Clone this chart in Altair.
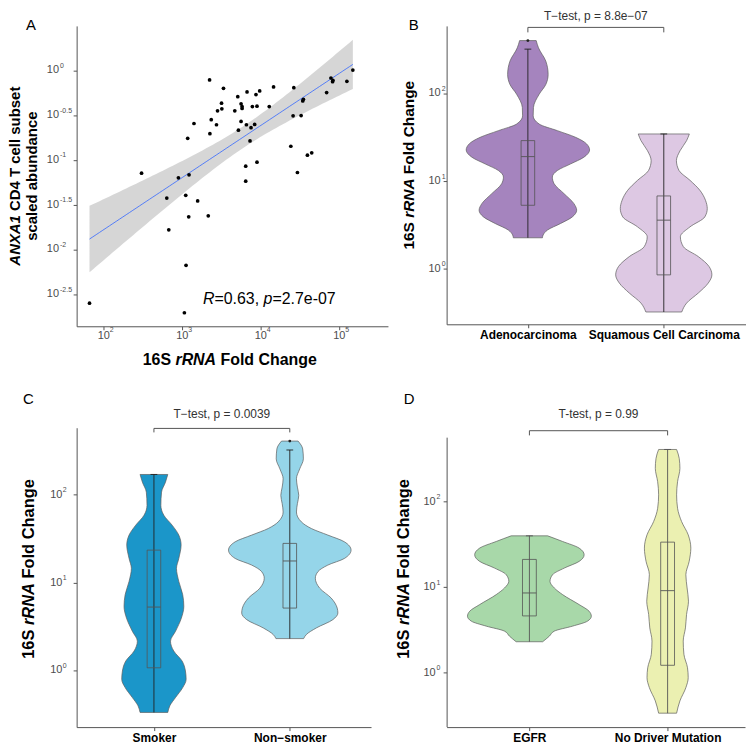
import altair as alt
import numpy as np
import pandas as pd

FONT = "Liberation Sans"
AX = "#555555"
LAB = "#4d4d4d"

# ---------------- Panel A : scatter ----------------
a_fold_change = [65.8, 303, 635, 673, 893, 1107, 1117, 1064, 1172, 1219, 1208, 1409, 1570, 2143,
                 2228, 2249, 2339, 2729, 2812, 3162, 3192, 3350, 4667, 5093, 5188, 5610, 5610, 5781,
                 5781, 6427, 6427, 6561, 6683, 7295, 7516, 7816, 8356, 8690, 8954, 8954, 9683, 12823,
                 14555, 24155, 25823, 26363, 29309, 32659, 34277, 34914, 39264, 44566, 69024, 78343,
                 82224, 82985, 125026, 148936]
a_abundance = [0.00251, 0.0711, 0.0375, 0.01656, 0.0631, 0.0402, 0.00664, 0.00196, 0.174, 0.0681,
               0.0231, 0.255, 0.0348, 0.0237, 0.782, 0.196, 0.281, 0.247, 0.353, 0.430, 0.372, 0.631,
               0.353, 0.509, 0.215, 0.423, 0.269, 0.394, 0.375, 0.0851, 0.0579, 0.247, 0.574, 0.163,
               0.229, 0.394, 0.249, 0.537, 0.398, 0.0942, 0.589, 0.394, 0.653, 0.142, 0.311, 0.641,
               0.0723, 0.313, 0.456, 0.476, 0.113, 0.120, 0.565, 0.822, 0.748, 0.774, 0.755, 1.009]
a_x_tick_exp = ["2", "3", "4", "5"]
a_y_tick_exp = ["0", "-0.5", "-1", "-1.5", "-2", "-2.5"]

# ---------------- Panel B : histology ----------------
b_groups = ["Adenocarcinoma", "Squamous Cell Carcinoma"]
b_colors = ["#A584BE", "#DDC8E3"]
b_adeno_level = [398, 329, 232, 164, 126, 97.5, 68.9, 55.3, 44.6, 37.5, 31.5, 26.5, 22.6, 18.7,
                 15.7, 13.2, 11.1, 9.33, 7.19, 5.53, 4.66, 3.91, 3.29, 2.77, 2.43, 2.26]
b_adeno_half = [0.061, 0.078, 0.132, 0.149, 0.132, 0.083, 0.041, 0.039, 0.083, 0.217, 0.351, 0.432,
                0.454, 0.412, 0.315, 0.217, 0.180, 0.193, 0.266, 0.339, 0.359, 0.327, 0.241, 0.144,
                0.112, 0.107]
b_squam_level = [34.4, 28.9, 22.2, 17.1, 13.2, 10.2, 7.84, 6.04, 4.86, 3.91, 3.01, 2.32, 1.79, 1.38,
                 1.06, 0.855, 0.689, 0.531, 0.408, 0.323]
b_squam_half = [0.188, 0.168, 0.120, 0.093, 0.112, 0.193, 0.266, 0.307, 0.320, 0.302, 0.193, 0.122,
                0.144, 0.254, 0.334, 0.354, 0.327, 0.254, 0.168, 0.132]
b_q1 = [5.3, 0.855]
b_median = [19.0, 3.59]
b_q3 = [28.9, 6.77]
b_low = [2.26, 0.323]
b_high = [318, 34.4]
b_outlier_pos = [1]
b_outlier_val = [398]
b_test = "T\u2212test, p = 8.8e\u221207"

# ---------------- Panel C : smoking ----------------
c_groups = ["Smoker", "Non\u2212smoker"]
c_colors = ["#1B96C9", "#95D5E9"]
c_smoker_level = [170, 139, 107, 75.7, 58.3, 45.0, 34.7, 26.7, 18.8, 14.5, 10.3, 7.25, 5.35, 3.94,
                  2.79, 2.15, 1.66, 1.28, 0.982, 0.791, 0.637, 0.491, 0.395, 0.332]
c_smoker_half = [0.102, 0.085, 0.056, 0.051, 0.073, 0.134, 0.183, 0.200, 0.183, 0.166, 0.183, 0.212,
                 0.220, 0.202, 0.159, 0.122, 0.146, 0.207, 0.232, 0.237, 0.212, 0.159, 0.117, 0.102]
c_non_level = [408, 332, 256, 197, 152, 122, 98.2, 79.1, 63.6, 49.1, 41.2, 34.7, 29.1, 23.4, 18.8,
               15.8, 13.3, 11.2, 8.63, 6.65, 5.12, 4.50, 3.78, 3.04, 2.56, 2.30]
c_non_half = [0.061, 0.095, 0.100, 0.073, 0.049, 0.056, 0.066, 0.056, 0.049, 0.085, 0.159, 0.280,
              0.402, 0.451, 0.402, 0.280, 0.207, 0.188, 0.220, 0.305, 0.349, 0.354, 0.317, 0.195,
              0.122, 0.102]
c_q1 = [1.07, 5.12]
c_median = [5.26, 17.6]
c_q3 = [23.4, 27.9]
c_low = [0.332, 2.30]
c_high = [170, 323]
c_outlier_pos = [2]
c_outlier_val = [408]
c_test = "T\u2212test, p = 0.0039"

# ---------------- Panel D : driver mutation ----------------
d_groups = ["EGFR", "No Driver Mutation"]
d_colors = ["#A8D8A9", "#EBF0B1"]
d_egfr_level = [39.8, 34.2, 28.6, 23.9, 20.0, 16.7, 14.0, 11.7, 9.78, 8.18, 6.25, 5.23, 4.57, 4.00,
                3.50, 3.06, 2.67, 2.30]
d_egfr_half = [0.132, 0.240, 0.360, 0.396, 0.360, 0.252, 0.168, 0.149, 0.180, 0.240, 0.360, 0.432,
               0.448, 0.420, 0.312, 0.180, 0.144, 0.096]
d_nodrv_level = [407, 320, 245, 171, 120, 83.6, 58.5, 40.9, 28.6, 20.0, 14.0, 9.78, 6.84, 4.78,
                 3.34, 2.34, 1.64, 1.14, 0.875, 0.668, 0.468, 0.336]
d_nodrv_half = [0.065, 0.084, 0.089, 0.072, 0.065, 0.072, 0.101, 0.149, 0.168, 0.156, 0.132, 0.141,
                0.151, 0.137, 0.129, 0.113, 0.118, 0.144, 0.149, 0.132, 0.089, 0.065]
d_q1 = [4.61, 1.22]
d_median = [8.55, 9.10]
d_q3 = [21.1, 33.6]
d_low = [2.30, 0.336]
d_high = [39.8, 407]
d_outlier_pos = []
d_outlier_val = []
d_test = "T-test, p = 0.99"

violin_tick_exp = ["0", "1", "2"]

# ---------------- helpers ----------------
ONE = pd.DataFrame({"k": [0]})

W_REG = {" ": .278, "-": .333, "\u2212": .584, ".": .278, ",": .278, "=": .584,
         "A": .667, "B": .667, "C": .722, "D": .722, "E": .667, "F": .611, "G": .778, "H": .722,
         "I": .278, "N": .722, "R": .722, "S": .667, "T": .611, "X": .667,
         "a": .556, "b": .556, "c": .5, "d": .556, "e": .556, "g": .556, "h": .556, "i": .222,
         "k": .5, "l": .222, "m": .833, "n": .556, "o": .556, "p": .556, "r": .333, "s": .5,
         "t": .278, "u": .556}
W_BOLD = {" ": .278, "A": .722, "C": .722, "D": .722, "F": .611, "N": .722, "R": .722, "S": .667,
          "T": .611, "X": .667, "a": .556, "b": .611, "c": .556, "d": .611, "e": .556, "g": .611,
          "h": .611, "i": .278, "l": .278, "n": .611, "o": .611, "r": .389, "s": .556, "t": .333,
          "u": .611}


def text_width(s, size, bold):
    table = W_BOLD if bold else W_REG
    return sum(table.get(ch, .556) for ch in s) * size


def seg_layers(segments, x, y, size, angle=0, center=True):
    widths = [text_width(t, size, w == "bold") for t, w, st in segments]
    off = -sum(widths) / 2 if center else 0.0
    out = []
    for (txt, weight, style), wd in zip(segments, widths):
        lead = len(txt) - len(txt.lstrip(" "))
        shown = txt.strip(" ")
        sp = text_width(" " * lead, size, weight == "bold")
        out.append(
            alt.Chart(ONE).mark_text(text=shown, align="left", baseline="alphabetic", font=FONT,
                                     fontSize=size, fontWeight=weight, fontStyle=style,
                                     angle=angle, dx=off + sp, color="black")
            .encode(x=alt.value(x), y=alt.value(y)))
        off += wd
    return out


def rrna_title():
    return [("16S ", "bold", "normal"), ("rRNA", "bold", "italic"), (" Fold Change", "bold", "normal")]


# ---------------- Panel A chart ----------------
xsA = alt.Scale(type="log", domain=[45.1, 416900], nice=False)
ysA = alt.Scale(type="log", domain=[0.001384, 3.14], nice=False)
x_ticks_A = [10.0 ** float(e) for e in a_x_tick_exp]
y_ticks_A = [10.0 ** float(e) for e in a_y_tick_exp]
axA_x = alt.Axis(values=x_ticks_A, labels=False, title=None, grid=False, tickSize=3.5,
                 tickColor=AX, domainColor=AX, tickWidth=1, domainWidth=1)
axA_y = alt.Axis(values=y_ticks_A, labels=False, title=None, grid=False, tickSize=3.5,
                 tickColor=AX, domainColor=AX, tickWidth=1, domainWidth=1)


def XA(f):
    return alt.X(f"{f}:Q", scale=xsA, axis=axA_x, title=None)


def YA(f):
    return alt.Y(f"{f}:Q", scale=ysA, axis=axA_y, title=None)


df_a = pd.DataFrame({"fold": a_fold_change, "abund": a_abundance})
lx = np.log10(df_a["fold"].to_numpy())
ly = np.log10(df_a["abund"].to_numpy())
slope, intercept = np.polyfit(lx, ly, 1)
n = len(lx)
resid = ly - (intercept + slope * lx)
s_err = np.sqrt((resid ** 2).sum() / (n - 2))
xbar = lx.mean()
sxx = ((lx - xbar) ** 2).sum()
tcrit = 2.003
grid = np.linspace(lx.min(), lx.max(), 80)
fit = intercept + slope * grid
se = s_err * np.sqrt(1.0 / n + (grid - xbar) ** 2 / sxx)
fit_df = pd.DataFrame({"x": 10 ** grid, "y": 10 ** fit,
                       "lo": 10 ** (fit - tcrit * se), "hi": 10 ** (fit + tcrit * se)})

A_W, A_H = 313, 302
band = alt.Chart(fit_df).mark_area(color="#999999", opacity=0.4).encode(
    x=XA("x"), y=YA("lo"), y2="hi")
line = alt.Chart(fit_df).mark_line(color="#3366FF", strokeWidth=0.8).encode(x=XA("x"), y=YA("y"))
pts = alt.Chart(df_a).mark_circle(size=14, color="black", opacity=1).encode(
    x=XA("fold"), y=YA("abund"))

ty = pd.DataFrame({"v": y_ticks_A, "e": a_y_tick_exp})
tx = pd.DataFrame({"v": x_ticks_A, "e": a_x_tick_exp})
a_ylab = alt.Chart(ty).mark_text(text="10", align="right", baseline="middle", font=FONT,
                                 fontSize=11, color=LAB).encode(y=YA("v"), x=alt.value(-17.7))
a_yexp = alt.Chart(ty).mark_text(align="left", baseline="middle", font=FONT, fontSize=7,
                                 color=LAB, dy=-4.5).encode(y=YA("v"), x=alt.value(-16.7),
                                                            text="e:N")
a_xlab = alt.Chart(tx).mark_text(text="10", align="center", baseline="alphabetic", font=FONT,
                                 fontSize=11, color=LAB).encode(x=XA("v"), y=alt.value(315))
a_xexp = alt.Chart(tx).mark_text(align="left", baseline="alphabetic", font=FONT, fontSize=7,
                                 color=LAB, dx=6).encode(x=XA("v"), y=alt.value(308), text="e:N")
anchor = alt.Chart(ONE).mark_rule(strokeOpacity=0, strokeWidth=0.01).encode(
    x=alt.value(-68), x2=alt.value(-68), y=alt.value(-15), y2=alt.value(-15))
a_letter = alt.Chart(ONE).mark_text(text="A", align="left", baseline="alphabetic", font=FONT,
                                    fontSize=15, color="black").encode(x=alt.value(-51), y=alt.value(4))

a_layers = [band, line, pts, a_ylab, a_yexp, a_xlab, a_xexp, anchor, a_letter]
a_layers += seg_layers(rrna_title(), 154, 341, 16)
a_layers += seg_layers([("ANXA1", "bold", "italic"), (" CD4 T cell subset", "bold", "normal")],
                       -57, 151, 15, angle=270)
a_layers += seg_layers([("scaled abundance", "bold", "normal")], -40, 151, 15, angle=270)
a_layers += seg_layers([("R", "normal", "italic"), ("=0.63, ", "normal", "normal"),
                        ("p", "normal", "italic"), ("=2.7e-07", "normal", "normal")],
                       127, 280, 16, center=False)
panelA = alt.layer(*a_layers).properties(width=A_W, height=A_H)


# ---------------- violin panel builder ----------------
def violin_panel(groups, colors, outlines, q1, med, q3, lo, hi, out_pos, out_val, W, H, xdom,
                 ydom, lab_x, exp_x, title_x, title_cy, title_size, test_text, test_y,
                 test_baseline, bracket_y, bracket_len, letter, letter_x, letter_y,
                 whisk_color, box_color, axis_top=None):
    xs = alt.Scale(domain=xdom, nice=False, zero=False)
    ys = alt.Scale(type="log", domain=ydom, nice=False)
    yticks = [10.0 ** float(e) for e in violin_tick_exp]
    labexpr = f"datum.value == 1 ? '{groups[0]}' : '{groups[1]}'"
    xaxis = alt.Axis(values=[1, 2], labelExpr=labexpr, labelFont=FONT, labelFontSize=12,
                     labelFontWeight="bold", labelColor="black", labelPadding=2, tickSize=3.5,
                     tickColor=AX, domainColor=AX, tickWidth=1, domainWidth=1, grid=False,
                     title=None, labelFlush=False, labelOverlap=False)
    yaxis = alt.Axis(values=yticks, labels=False, tickSize=3.5, tickColor=AX, domainColor=AX,
                     tickWidth=1, domainWidth=1, grid=False, title=None,
                     domain=(axis_top is None))

    def X(f):
        return alt.X(f"{f}:Q", scale=xs, axis=xaxis, title=None)

    def Y(f):
        return alt.Y(f"{f}:Q", scale=ys, axis=yaxis, title=None)

    rows = []
    for gi, (lev, half) in enumerate(outlines):
        for v, h in zip(lev, half):
            rows.append({"group": groups[gi], "fc": v, "left": gi + 1 - h, "right": gi + 1 + h})
    vdf = pd.DataFrame(rows)
    area = alt.Chart(vdf).mark_area(orient="horizontal", interpolate="monotone", stroke="#5c5c5c",
                                    strokeWidth=0.7).encode(
        y=Y("fc"), x=X("left"), x2="right",
        fill=alt.Fill("group:N", scale=alt.Scale(domain=groups, range=colors), legend=None))

    bdf = pd.DataFrame({"pos": [1, 2], "q1": q1, "med": med, "q3": q3, "lo": lo, "hi": hi})
    bdf["bl"] = bdf["pos"] - 0.05
    bdf["br"] = bdf["pos"] + 0.05
    bdf["cl"] = bdf["pos"] - 0.025
    bdf["cr"] = bdf["pos"] + 0.025
    whisk = alt.Chart(bdf).mark_rule(color=whisk_color, strokeWidth=0.9).encode(
        x=X("pos"), y=Y("lo"), y2="hi")
    caps = alt.Chart(bdf).mark_rule(color=whisk_color, strokeWidth=0.9).encode(
        x=X("cl"), x2="cr", y=Y("hi"))
    box = alt.Chart(bdf).mark_rect(fillOpacity=0, stroke=box_color, strokeWidth=0.8).encode(
        x=X("bl"), x2="br", y=Y("q1"), y2="q3")
    medl = alt.Chart(bdf).mark_rule(color=box_color, strokeWidth=0.9).encode(
        x=X("bl"), x2="br", y=Y("med"))
    layers = [area, whisk, caps, box, medl]
    if out_pos:
        odf = pd.DataFrame({"pos": out_pos, "val": out_val})
        layers.append(alt.Chart(odf).mark_circle(size=8, color="#222222", opacity=1).encode(
            x=X("pos"), y=Y("val")))

    tdf = pd.DataFrame({"v": yticks, "e": violin_tick_exp})
    layers.append(alt.Chart(tdf).mark_text(text="10", align="right", baseline="middle", font=FONT,
                                           fontSize=11, color=LAB).encode(
        y=Y("v"), x=alt.value(lab_x)))
    layers.append(alt.Chart(tdf).mark_text(align="left", baseline="middle", font=FONT, fontSize=7,
                                           color=LAB, dy=-4.5).encode(
        y=Y("v"), x=alt.value(exp_x), text="e:N"))

    brdf = pd.DataFrame({"a": [1], "b": [2], "mid": [1.5]})
    layers.append(alt.Chart(brdf).mark_rule(color=AX, strokeWidth=1).encode(
        x=X("a"), x2="b", y=alt.value(bracket_y)))
    layers.append(alt.Chart(bdf).mark_rule(color=AX, strokeWidth=1).encode(
        x=X("pos"), y=alt.value(bracket_y), y2=alt.value(bracket_y + bracket_len)))
    layers.append(alt.Chart(brdf).mark_text(text=test_text, align="center", baseline=test_baseline,
                                            font=FONT, fontSize=12, color="#333333").encode(
        x=X("mid"), y=alt.value(test_y)))

    if axis_top is not None:
        layers.append(alt.Chart(ONE).mark_rule(color=AX, strokeWidth=1).encode(
            x=alt.value(0.5), y=alt.value(axis_top), y2=alt.value(H)))

    layers.append(alt.Chart(ONE).mark_text(text=letter, align="left", baseline="alphabetic",
                                           font=FONT, fontSize=15, color="black").encode(
        x=alt.value(letter_x), y=alt.value(letter_y)))
    layers += seg_layers(rrna_title(), title_x, title_cy, title_size, angle=270)
    return alt.layer(*layers).properties(width=W, height=H)


panelB = violin_panel(b_groups, b_colors, [(b_adeno_level, b_adeno_half), (b_squam_level, b_squam_half)],
                      b_q1, b_median, b_q3, b_low, b_high, b_outlier_pos, b_outlier_val,
                      301, 300, [0.402, 2.605], [0.234, 584.8], -6, -5, -33, 140, 15.5,
                      b_test, -15, "top", 1.5, 5, "B", -38, 4, "#222222", "#555555")
panelC = violin_panel(c_groups, c_colors, [(c_smoker_level, c_smoker_half), (c_non_level, c_non_half)],
                      c_q1, c_median, c_q3, c_low, c_high, c_outlier_pos, c_outlier_val,
                      296, 301, [0.431, 2.598], [0.226, 579], -14.3, -14, -42.7, 142, 16.5,
                      c_test, -9.7, "alphabetic", 0.7, 4, "C", -54, -24, "#222222", "#555555")
panelD = violin_panel(d_groups, d_colors, [(d_egfr_level, d_egfr_half), (d_nodrv_level, d_nodrv_half)],
                      d_q1, d_median, d_q3, d_low, d_high, d_outlier_pos, d_outlier_val,
                      300, 301, [0.401, 2.56], [0.231, 731], -11, -10.3, -38, 142, 16.5,
                      d_test, -9.7, "alphabetic", 3, 4.7, "D", -43, -24, "#555555", "#555555",
                      axis_top=10)

chart = alt.concat(panelA, panelB, panelC, panelD, columns=2,
                   spacing=alt.RowColnumber(row=102, column=59), bounds="flush") \
    .resolve_scale(fill="independent") \
    .properties(padding=0) \
    .configure_view(stroke=None)

chart.save("out.html", embed_options={"renderer": "svg", "actions": False})
